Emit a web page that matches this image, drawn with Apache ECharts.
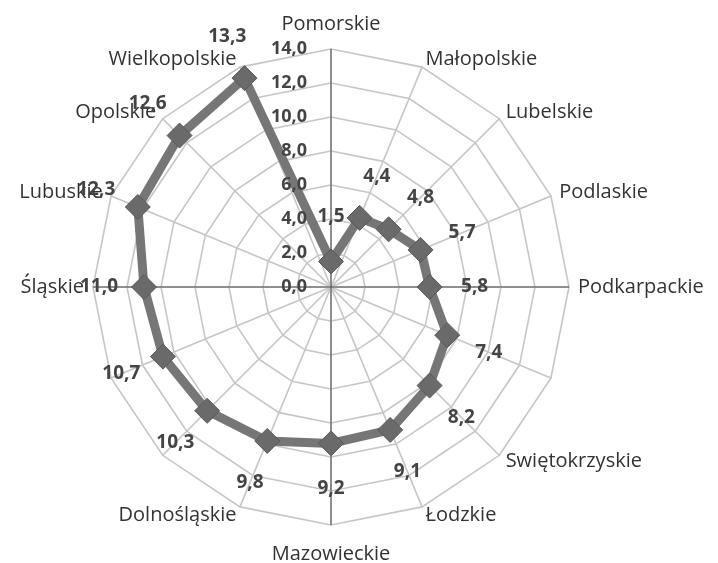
<!DOCTYPE html>
<html><head><meta charset="utf-8">
<script src="https://cdn.jsdelivr.net/npm/echarts@6/dist/echarts.min.js"></script>
<style>html,body{margin:0;padding:0;background:#fff}#c{width:718px;height:563px}</style>
</head><body><div id="c"></div>
<script>
const categories = ['Pomorskie','Małopolskie','Lubelskie','Podlaskie','Podkarpackie','','Swiętokrzyskie','Łodzkie','Mazowieckie','Dolnośląskie','','','Śląskie','Lubuskie','Opolskie','Wielkopolskie'];
const values = [1.5,4.4,4.8,5.7,5.8,7.4,8.2,9.1,9.2,9.8,10.3,10.7,11.0,12.3,12.6,13.3];
const axisMin = 0, axisMax = 14, axisStep = 2;

const fmt = v => Number(v).toFixed(1).replace('.', ',');
const CENTER = [331, 287], R = 238, LABEL_DIST = 45;
const n = categories.length;
// ECharts radar runs counter-clockwise; reorder so categories go clockwise
const order = [0].concat(Array.from({length: n - 1}, (_, k) => n - 1 - k));
const indicator = order.map(i => ({ name: categories[i], min: axisMin, max: axisMax }));
const radarValues = order.map(i => values[i]);
const FONT = 'Open Sans';

const chart = echarts.init(document.getElementById('c'));
chart.setOption({
  backgroundColor: '#fff',
  animation: false,
  radar: {
    center: CENTER, radius: R, startAngle: 90, shape: 'polygon',
    splitNumber: (axisMax - axisMin) / axisStep,
    indicator,
    axisNameGap: 9,
    axisName: {
      color: '#333', fontSize: 20, fontFamily: FONT,
      formatter: name => name === categories[0] ? '{t|' + name + '}' : (name === categories[n / 2] ? '{b|' + name + '}' : name),
      rich: {
        t: { padding: [0, 0, 6, 0], fontSize: 20, fontFamily: FONT, color: '#333' },
        b: { padding: [10, 0, 0, 0], fontSize: 20, fontFamily: FONT, color: '#333' }
      }
    },
    splitLine: { lineStyle: { color: '#c6c6c6', width: 1.6 } },
    splitArea: { show: false },
    axisLine: { lineStyle: { color: '#c6c6c6', width: 1.6 } },
    axisTick: { show: false },
    axisLabel: { show: false }
  },
  polar: [{ center: CENTER, radius: R }, { center: CENTER, radius: R }],
  angleAxis: [{
    polarIndex: 0,
    type: 'category', data: categories.map((_, i) => String(i)), boundaryGap: false,
    startAngle: 90, clockwise: true,
    axisLine: { show: false }, axisTick: { show: false }, axisLabel: { show: false },
    splitLine: { show: false }
  }, {
    polarIndex: 1,
    type: 'value', min: 0, max: 360, interval: 90, startAngle: 90, clockwise: true,
    axisLine: { show: false }, axisTick: { show: false }, axisLabel: { show: false },
    splitLine: { show: true, lineStyle: { color: '#4a4a4a', width: 1 } },
    z: 1
  }],
  radiusAxis: [{
    polarIndex: 0,
    type: 'value', min: axisMin, max: axisMax, interval: axisStep,
    axisLine: { show: false }, axisTick: { show: false }, splitLine: { show: false },
    axisLabel: { formatter: fmt, margin: 24, color: '#444', fontWeight: 'bold', fontSize: 18, fontFamily: FONT },
    z: 6
  }, {
    polarIndex: 1,
    type: 'value', min: axisMin, max: axisMax,
    axisLine: { show: false }, axisTick: { show: false }, splitLine: { show: false }, axisLabel: { show: false }
  }],
  series: [
    {
      type: 'radar', z: 3,
      symbol: 'diamond', symbolSize: 25,
      lineStyle: { color: '#767676', width: 9 },
      itemStyle: { color: '#6a6a6a', borderColor: '#595959', borderWidth: 1 },
      data: [{ value: radarValues }]
    },
    {
      type: 'scatter', coordinateSystem: 'polar', polarIndex: 0, z: 5, silent: true,
      symbolSize: 0,
      itemStyle: { opacity: 1 },
      data: values.map((v, i) => {
        const a = i * 2 * Math.PI / n;
        return { value: [v, i], label: { offset: [LABEL_DIST * Math.sin(a), -LABEL_DIST * Math.cos(a)] } };
      }),
      label: {
        show: true, position: 'inside', formatter: p => fmt(p.value[0]),
        color: '#444', fontWeight: 'bold', fontSize: 19, fontFamily: FONT
      }
    }
  ]
});
</script></body></html>
